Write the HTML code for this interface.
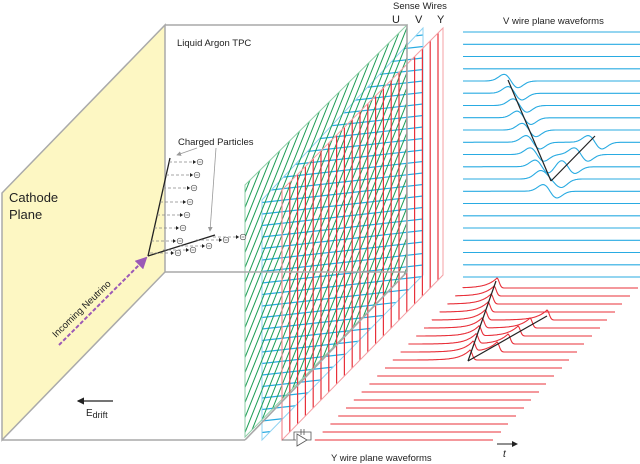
<!DOCTYPE html>
<html><head><meta charset="utf-8"><style>
html,body{margin:0;padding:0;background:#fff;overflow:hidden;width:640px;height:464px}
svg{display:block}
text{font-family:"Liberation Sans",sans-serif;fill:#222}
</style></head><body>
<svg id="c" width="640" height="464" viewBox="0 0 640 464">
<defs>
<clipPath id="clipU"><polygon points="245,185 407,25 407,272 245,437"/></clipPath>
<clipPath id="clipV"><polygon points="262,200 423,28 423,275 262,440"/></clipPath>
<marker id="ah" markerWidth="6" markerHeight="6" refX="5" refY="3" orient="auto"><path d="M0,0 L6,3 L0,6z" fill="#222"/></marker>
<marker id="ahp" markerWidth="6" markerHeight="6" refX="5" refY="3" orient="auto"><path d="M0,0 L6,3 L0,6z" fill="#9b59b6"/></marker>
<marker id="ahg" markerWidth="6" markerHeight="6" refX="5" refY="3" orient="auto"><path d="M0,0 L6,3 L0,6z" fill="#999"/></marker>
</defs>
<polygon points="2,193 165,25 165,272 2,440" fill="#fdf7c3" stroke="#aaa" stroke-width="1.5"/>
<g id="wires"></g>
<g stroke="#a8a8a8" stroke-width="1.6" fill="none">
<polyline points="165,25 407,25 407,272"/>
<line x1="165" y1="272" x2="407" y2="272"/>
<line x1="2" y1="440" x2="245" y2="440"/>
<line x1="245" y1="440" x2="407" y2="272"/>
</g>
<text x="9" y="202" font-size="13">Cathode</text>
<text x="9" y="219" font-size="13">Plane</text>
<text x="177" y="46" font-size="9.5">Liquid Argon TPC</text>
<text x="178" y="145" font-size="9.5">Charged Particles</text>
<line x1="197" y1="148" x2="177" y2="155" stroke="#999" stroke-width="0.8" marker-end="url(#ahg)"/>
<line x1="216" y1="148" x2="210" y2="231" stroke="#999" stroke-width="0.8" marker-end="url(#ahg)"/>
<g id="track"></g>
<line x1="59" y1="345" x2="146" y2="258" stroke="#9b59b6" stroke-width="2" stroke-dasharray="4,2" marker-end="url(#ahp)"/>
<text transform="translate(56,338) rotate(-44)" font-size="9.5">Incoming Neutrino</text>
<line x1="113" y1="401" x2="78" y2="401" stroke="#222" stroke-width="1.2" marker-end="url(#ah)"/>
<text x="86" y="416" font-size="10">E<tspan font-size="9" dy="2">drift</tspan></text>
<text x="393" y="9" font-size="9.5">Sense Wires</text>
<text x="392" y="23" font-size="11">U</text>
<text x="415" y="23" font-size="11">V</text>
<text x="437" y="23" font-size="11">Y</text>
<text x="503" y="24" font-size="9.5">V wire plane waveforms</text>
<text x="331" y="461" font-size="9.5">Y wire plane waveforms</text>
<line x1="497" y1="444" x2="517" y2="444" stroke="#222" stroke-width="1" marker-end="url(#ah)"/>
<text x="503" y="457" font-size="10" font-style="italic">t</text>
<g stroke="#555" fill="none" stroke-width="0.8">
<polyline points="282,440 296,440"/><polygon points="297,434 307,440 297,446" fill="#fff"/>
<polyline points="294,440 294,432 311,432 311,440 307,440"/>
<line x1="301" y1="429" x2="301" y2="435"/><line x1="304" y1="429" x2="304" y2="435"/>
</g>
<g id="vw"></g><g id="yw"></g>
</svg>
<script>
// V plane waveform data: row index -> bipolar bump center x
const vRows = 21;
const vBumpRows = [4,5,6,7,8,9,10,11,12,13,9,10,11,12];
const vBumpX = [511,515,520,524,529,533,537,542,546,550,595,581,568,556];
const vTrack1 = [[508,80],[551,181]];
const vTrack2 = [[551,181],[595,136]];
// Y plane waveform data: row index -> unipolar bump peak x
const yRows = 20;
const yBumpRows = [0,1,2,3,4,5,6,7,8,9,4,5,6,7,8];
const yBumpX = [497,494,491,488,485,482,479,476,473,470,547,530,518,508,497];
const yTrack1 = [[496,281],[468,361]];
const yTrack2 = [[468,361],[547,316]];

const NS="http://www.w3.org/2000/svg";
function mk(tag,attrs,parent){const e=document.createElementNS(NS,tag);for(const k in attrs)e.setAttribute(k,attrs[k]);parent.appendChild(e);return e;}
const wires=document.getElementById('wires');
// V plane blue wires
const gv=mk('g',{'clip-path':'url(#clipV)',stroke:'#29abe2','stroke-width':1.2},wires);


for(let y=30;y<480;y+=11.5){mk('line',{x1:262,y1:y,x2:423,y2:y-18},gv);}
mk('polygon',{points:'262,200 423,28 423,275 262,440',fill:'none',stroke:'#8fd3f2','stroke-width':1},wires);
// U plane green hatch
const gu=mk('g',{'clip-path':'url(#clipU)',stroke:'#1e9e55','stroke-width':1},wires);


for(let x=60;x<420;x+=6){mk('line',{x1:x,y1:460,x2:x+184,y2:0},gu);}
mk('polygon',{points:'245,185 407,25 407,272 245,437',fill:'none',stroke:'#8fcfa8','stroke-width':1},wires);
// Y plane red verticals
const gy=mk('g',{stroke:'#e8303a','stroke-width':1.2},wires);


for(let x=282;x<=443;x+=7.8){const t=(x-282)/161;mk('line',{x1:x,y1:190-162*t,x2:x,y2:440-165*t},gy);}
mk('polygon',{points:'282,190 443,28 443,275 282,440',fill:'none',stroke:'#f4a0a5','stroke-width':1},wires);

// track + drifting electrons
const tr=document.getElementById('track');
mk('line',{x1:148,y1:256,x2:170,y2:158,stroke:'#222','stroke-width':1.3},tr);
mk('line',{x1:148,y1:256,x2:215,y2:235,stroke:'#222','stroke-width':1.3},tr);
const eA=[[169,162,200],[166,175,197],[163,188,194],[160,202,190],[157,215,187],[154,228,183],[151,241,180],[150,253,178]];
const eB=[[163,250,193],[180,246,209],[196,240,226],[213,237,243]];
for(const [x1,y,x2] of eA.concat(eB)){
  mk('line',{x1:x1,y1:y,x2:x2-4,y2:y,stroke:'#888','stroke-width':0.7,'stroke-dasharray':'3,2'},tr);
  mk('path',{d:`M${x2-7},${y-2} L${x2-4},${y} L${x2-7},${y+2}z`,fill:'#222'},tr);
  mk('circle',{cx:x2,cy:y,r:2.8,fill:'#fff',stroke:'#444','stroke-width':0.6},tr);
  mk('line',{x1:x2-1.5,y1:y,x2:x2+1.5,y2:y,stroke:'#444','stroke-width':0.6},tr);
}

// V waveforms
const vw=document.getElementById('vw');
for(let i=0;i<vRows;i++){
  const y=32+i*12.25;
  const bumps=[];vBumpRows.forEach((r,j)=>{if(r===i)bumps.push(vBumpX[j]);});
  let d=`M463,${y}`;
  for(let x=464;x<=640;x+=1){let v=0;for(const c of bumps){const u=(x-c)/7;v+=-11*u*Math.exp(-u*u/2);}d+=` L${x},${(y-v).toFixed(1)}`;}
  const p=mk('path',{d:d,fill:'none',stroke:'#29abe2','stroke-width':1.1},vw);
  
  
}
for(const t of [vTrack1,vTrack2]){const l=mk('line',{x1:t[0][0],y1:t[0][1],x2:t[1][0],y2:t[1][1],stroke:'#222','stroke-width':1.2},vw);}
// Y waveforms
const yw=document.getElementById('yw');
for(let i=0;i<yRows;i++){
  const y=288+i*8;const xs=463-i*7.8, xe=638-i*7.6;
  const bumps=[];yBumpRows.forEach((r,j)=>{if(r===i)bumps.push(yBumpX[j]);});
  let d=`M${xs},${y}`;
  for(let x=Math.ceil(xs);x<=xe;x+=1){let v=0;for(const c of bumps){const u=x-c;v+= u<0 ? 10*Math.exp(u/10) : 10*Math.exp(-(u/3)*(u/3));}d+=` L${x},${(y-v).toFixed(1)}`;}
  const p=mk('path',{d:d,fill:'none',stroke:'#e8303a','stroke-width':1.1},yw);
  
  
}
for(const t of [yTrack1,yTrack2]){const l=mk('line',{x1:t[0][0],y1:t[0][1],x2:t[1][0],y2:t[1][1],stroke:'#222','stroke-width':1.2},yw);}
</script>
</body></html>
